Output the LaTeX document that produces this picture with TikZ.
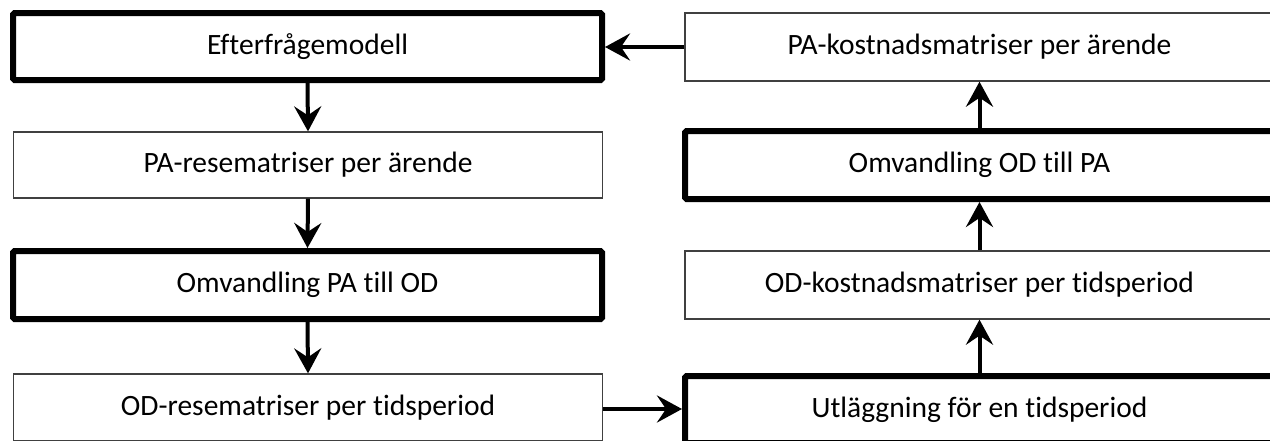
\documentclass[tikz,border=0pt]{standalone}
\usepackage{fontspec}
\setmainfont{Carlito}[Ligatures=NoCommon]
\usetikzlibrary{arrows.meta}
\begin{document}
\begin{tikzpicture}[x=1pt,y=-1pt,
  box/.style={rectangle, inner sep=0pt, minimum width=589pt, fill=white,
    font=\fontsize{29.5}{32}\selectfont},
  thinbox/.style={box, draw=black!75, line width=1.3pt},
  thickbox/.style={box, draw=black, line width=6pt, rounded corners=1.5pt},
  arr/.style={line width=4pt, -{Stealth[length=25pt, width=27pt, inset=9pt]}}
]
\useasboundingbox (0,0) rectangle (1270,440);
% left column
\node[thickbox, minimum height=67pt] (e)     at (307.5,46.5)  {Efterfrågemodell};
\node[thinbox,  minimum height=66pt] (pa)    at (308,165)     {PA-resematriser per ärende};
\node[thickbox, minimum height=68pt] (pa2od) at (307.5,285)   {Omvandling PA till OD};
\node[thinbox,  minimum height=67pt] (odr)   at (308,407.5)   {OD-resematriser per tidsperiod};
% right column
\node[thinbox,  minimum height=68pt] (pak)   at (979.5,47)    {PA-kostnadsmatriser per ärende};
\node[thickbox, minimum height=68pt] (od2pa) at (979.5,165)   {Omvandling OD till PA};
\node[thinbox,  minimum height=68pt] (odk)   at (979.5,285)   {OD-kostnadsmatriser per tidsperiod};
\node[thickbox, minimum height=67pt] (utl)   at (979.5,409.5) {Utläggning för en tidsperiod};
% connectors
\draw[arr] (e.south) -- (pa.north);
\draw[arr] (pa.south) -- (pa2od.north);
\draw[arr] (pa2od.south) -- (odr.north);
\draw[arr] ([yshift=-1.5pt]odr.east) -- ([yshift=-1.5pt]odr.east -| utl.west);
\draw[arr] (utl.north) -- (odk.south);
\draw[arr] (odk.north) -- (od2pa.south);
\draw[arr] (od2pa.north) -- (pak.south);
\draw[arr] (pak.west) -- (pak.west -| e.east);
\end{tikzpicture}
\end{document}
